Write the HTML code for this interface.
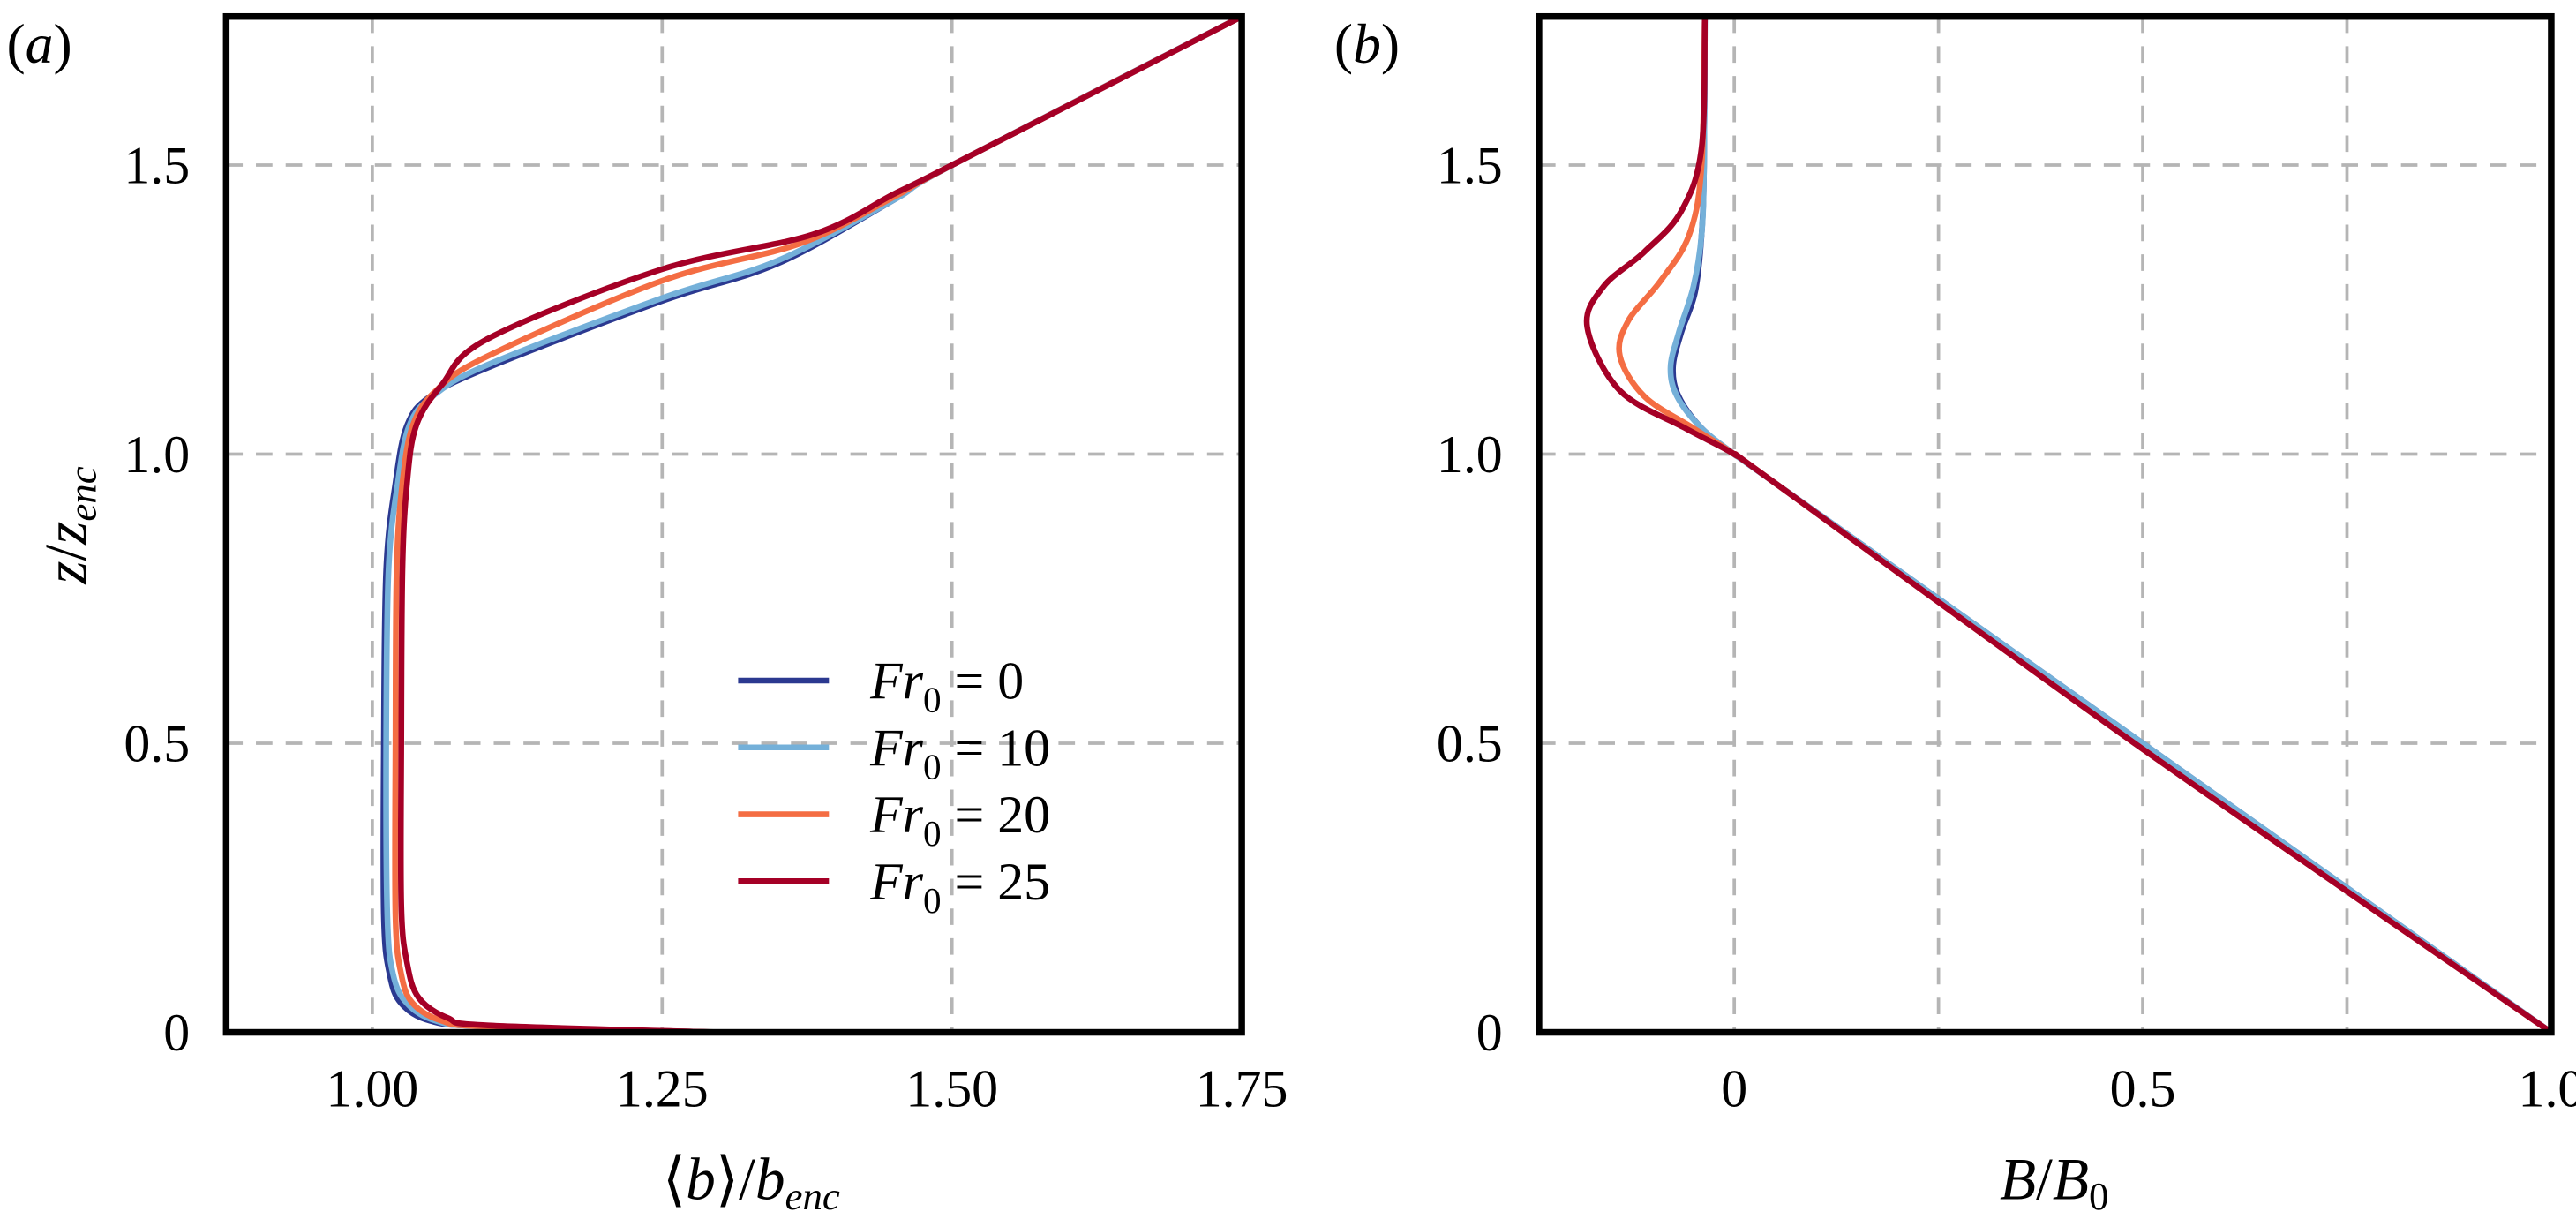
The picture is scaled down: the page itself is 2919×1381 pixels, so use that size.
<!DOCTYPE html>
<html><head><meta charset="utf-8"><style>
html,body{margin:0;padding:0;background:#fff;}
svg{display:block;}
text{font-family:"Liberation Serif","DejaVu Serif",serif;}
</style></head><body>
<svg id="fig" width="2919" height="1381" viewBox="0 0 1560 738" preserveAspectRatio="none" xmlns="http://www.w3.org/2000/svg">
<g id="pa"></g>
<g id="pb"></g>
</svg>
<script>
// ---- Panel (a) data: <b>/b_enc vs z/z_enc ----
const seriesNames = ["Fr0 = 0","Fr0 = 10","Fr0 = 20","Fr0 = 25"];
const seriesColors = ["#2b3990","#74b0d9","#f46d43","#a50026"];
const aFr0_b = [1.30,1.10,1.05,1.025,1.015,1.010,1.010,1.012,1.020,1.030,1.050,1.10,1.25,1.35,1.45,1.50,1.75];
const aFr0_z = [0.00,0.01,0.02,0.05,0.10,0.20,0.50,0.80,0.95,1.05,1.10,1.15,1.265,1.33,1.44,1.50,1.757];
const aFr10_b = [1.30,1.10,1.055,1.03,1.018,1.013,1.012,1.014,1.022,1.032,1.052,1.10,1.25,1.35,1.45,1.50,1.75];
const aFr10_z = [0.00,0.01,0.02,0.05,0.10,0.20,0.50,0.80,0.95,1.05,1.10,1.155,1.27,1.335,1.44,1.50,1.757];
const aFr20_b = [1.30,1.10,1.06,1.035,1.025,1.020,1.020,1.021,1.026,1.035,1.055,1.10,1.25,1.37,1.45,1.50,1.75];
const aFr20_z = [0.00,0.01,0.02,0.05,0.10,0.20,0.50,0.80,0.95,1.05,1.11,1.17,1.30,1.365,1.445,1.50,1.757];
const aFr25_b = [1.30,1.10,1.065,1.04,1.03,1.025,1.025,1.026,1.030,1.038,1.06,1.10,1.25,1.38,1.45,1.50,1.75];
const aFr25_z = [0.00,0.012,0.025,0.06,0.12,0.22,0.50,0.80,0.95,1.05,1.12,1.20,1.32,1.38,1.45,1.50,1.757];
const aXTicks = [1.00,1.25,1.50,1.75];
const aXTickLabels = ["1.00","1.25","1.50","1.75"];
const yTicks = [0,0.5,1.0,1.5];
const yTickLabels = ["0","0.5","1.0","1.5"];
// ---- Panel (b) data: B/B0 vs z/z_enc ----
const bFr0_B = [1.00,0.50,0.05,0.00,-0.04,-0.068,-0.075,-0.065,-0.048,-0.040,-0.037,-0.036];
const bFr0_z = [0.00,0.50,0.95,1.00,1.045,1.10,1.15,1.21,1.28,1.38,1.50,1.757];
const bFr10_B = [1.00,0.50,0.05,0.00,-0.04,-0.07,-0.078,-0.068,-0.05,-0.040,-0.037,-0.036];
const bFr10_z = [0.00,0.50,0.95,1.00,1.045,1.10,1.15,1.21,1.29,1.38,1.50,1.757];
const bFr20_B = [1.00,0.49,0.05,0.00,-0.05,-0.11,-0.14,-0.13,-0.09,-0.055,-0.040,-0.036];
const bFr20_z = [0.00,0.50,0.95,1.00,1.045,1.10,1.17,1.23,1.30,1.38,1.50,1.757];
const bFr25_B = [1.00,0.49,0.05,0.00,-0.06,-0.14,-0.18,-0.16,-0.11,-0.065,-0.040,-0.036];
const bFr25_z = [0.00,0.50,0.95,1.00,1.045,1.11,1.22,1.29,1.35,1.42,1.53,1.757];
const bXTicks = [0,0.5,1.0];
const bXTickLabels = ["0","0.5","1.0"];
const bXGrid = [0,0.25,0.5,0.75];

const NS="http://www.w3.org/2000/svg";
function mk(tag,parent,attrs){const e=document.createElementNS(NS,tag);for(const k in attrs)e.setAttribute(k,attrs[k]);parent.appendChild(e);return e;}
function scale(d0,d1,r0,r1){return v=>r0+(v-d0)/(d1-d0)*(r1-r0);}
function smoothPath(pts){
  let d="M"+pts[0][0].toFixed(2)+","+pts[0][1].toFixed(2);
  for(let i=0;i<pts.length-1;i++){
    const p0=pts[Math.max(i-1,0)],p1=pts[i],p2=pts[i+1],p3=pts[Math.min(i+2,pts.length-1)];
    const c1=[p1[0]+(p2[0]-p0[0])/6,p1[1]+(p2[1]-p0[1])/6];
    const c2=[p2[0]-(p3[0]-p1[0])/6,p2[1]-(p3[1]-p1[1])/6];
    d+="C"+c1[0].toFixed(2)+","+c1[1].toFixed(2)+" "+c2[0].toFixed(2)+","+c2[1].toFixed(2)+" "+p2[0].toFixed(2)+","+p2[1].toFixed(2);
  }
  return d;
}
function panel(g,L,R,T,B,xd,yd,xGrid,xTicks,xLabels,series,tag){
  const sx=scale(xd[0],xd[1],L,R), sy=scale(yd[0],yd[1],B,T);
  const clipId="clip"+tag;
  const cp=mk("clipPath",g,{id:clipId}); mk("rect",cp,{x:L,y:T,width:R-L,height:B-T});
  xGrid.forEach(v=>{const l=mk("line",g,{x1:sx(v),x2:sx(v),y1:T,y2:B,stroke:"#b5b5b5","stroke-width":2,"stroke-dasharray":"10,8"});
    
    });
  yTicks.forEach((v,i)=>{if(v>0){const l=mk("line",g,{x1:L,x2:R,y1:sy(v),y2:sy(v),stroke:"#b5b5b5","stroke-width":2,"stroke-dasharray":"10,8"});
    
    }
    const t=mk("text",g,{x:L-22,y:sy(v)+11,"text-anchor":"end","font-size":32});t.textContent=yTickLabels[i];
    
    });
  xTicks.forEach((v,i)=>{const t=mk("text",g,{x:sx(v),y:B+45,"text-anchor":"middle","font-size":32});t.textContent=xLabels[i];
    
    });
  const sg=mk("g",g,{"clip-path":"url(#"+clipId+")"});
  series.forEach((s,i)=>{const pts=s[0].map((x,j)=>[sx(x),sy(s[1][j])]);
    const p=mk("path",sg,{d:smoothPath(pts),fill:"none",stroke:seriesColors[i],"stroke-width":3.5,"stroke-linejoin":"round"});
    
    });
  const f=mk("rect",g,{x:L,y:T,width:R-L,height:B-T,fill:"none",stroke:"#000","stroke-width":4});
  
  
}
const pa=document.getElementById("pa"), pb=document.getElementById("pb");
panel(pa,137,752,10,625,[0.874,1.75],[0,1.757],aXTicks,aXTicks,aXTickLabels,
  [[aFr0_b,aFr0_z],[aFr10_b,aFr10_z],[aFr20_b,aFr20_z],[aFr25_b,aFr25_z]],"a");
panel(pb,932,1545,10,625,[-0.239,1.0],[0,1.757],bXGrid,bXTicks,bXTickLabels,
  [[bFr0_B,bFr0_z],[bFr10_B,bFr10_z],[bFr20_B,bFr20_z],[bFr25_B,bFr25_z]],"b");

// legend
const lg=mk("g",pa,{});


const lv=["0","10","20","25"];
lv.forEach((v,i)=>{const y=412+i*40.5;
  const l=mk("line",lg,{x1:447,x2:502,y1:y,y2:y,stroke:seriesColors[i],"stroke-width":3.5});
  
  
  const t=mk("text",lg,{x:527,y:y+11,"font-size":32});
  t.innerHTML='<tspan font-style="italic">Fr</tspan><tspan font-size="22" dy="8">0</tspan><tspan dy="-8"> = '+v+'</tspan>';
  
  });

function txt(parent,x,y,html,size,name,extra){const t=mk("text",parent,Object.assign({x:x,y:y,"font-size":size},extra||{}));t.innerHTML=html;
  
  return t;}
txt(pa,4,38,'(<tspan font-style="italic">a</tspan>)',34,'panel-label-a');
txt(pb,808,38,'(<tspan font-style="italic">b</tspan>)',34,'panel-label-b');
txt(pa,455,726,'⟨<tspan font-style="italic">b</tspan>⟩/<tspan font-style="italic">b</tspan><tspan font-style="italic" font-size="24" dy="6">enc</tspan>',36,'x-axis-title-a',{"text-anchor":"middle"});
txt(pb,1244,726,'<tspan font-style="italic">B</tspan>/<tspan font-style="italic">B</tspan><tspan font-size="24" dy="6">0</tspan>',36,'x-axis-title-b',{"text-anchor":"middle"});
txt(pa,0,0,'<tspan font-style="italic">z</tspan>/<tspan font-style="italic">z</tspan><tspan font-style="italic" font-size="24" dy="6">enc</tspan>',36,'y-axis-title-a',{"text-anchor":"middle",transform:"translate(52,318) rotate(-90)"});
</script>
</body></html>
